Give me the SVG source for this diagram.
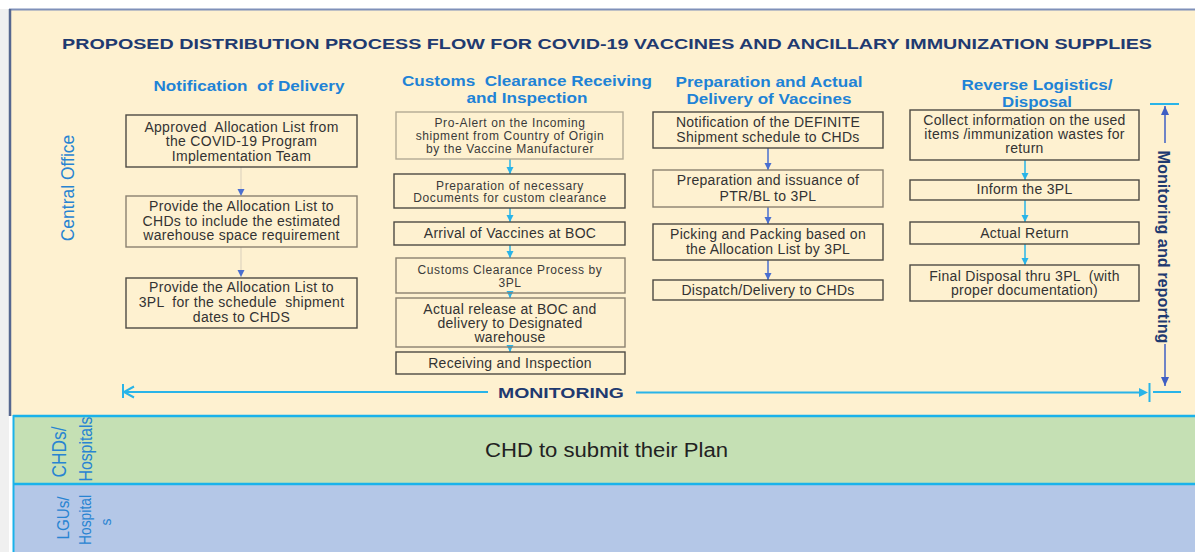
<svg xmlns="http://www.w3.org/2000/svg" width="1195" height="552" viewBox="0 0 1195 552">
<style>
.box{fill:none;stroke:#4d4a44;stroke-width:1.4}
.boxl{fill:none;stroke:#b3aa94;stroke-width:1.4}
.t{font-family:"Liberation Sans",Arial,sans-serif;font-size:14px;letter-spacing:0.3px;fill:#333;text-anchor:middle}
.ts{font-family:"Liberation Sans",Arial,sans-serif;font-size:12px;letter-spacing:0.6px;fill:#3a3a3a;text-anchor:middle}
.pre{white-space:pre}
.hd{font-family:"Liberation Sans",Arial,sans-serif;font-size:14.5px;font-weight:bold;fill:#1f83d6;text-anchor:middle}
.navy{font-family:"Liberation Sans",Arial,sans-serif;font-weight:bold;fill:#1f3a70}
.lane{font-family:"Liberation Sans",Arial,sans-serif;fill:#2884d2;text-anchor:middle;dominant-baseline:central}
.ac{stroke:#29b4e8;stroke-width:1.5;fill:none}
.ab{stroke:#4a6fd0;stroke-width:1.5;fill:none}
.ag{stroke:#d9cfbc;stroke-width:1;fill:none}
.mon{stroke:#29b4e8;stroke-width:2;fill:none}
</style>
<defs>
<marker id="mb" markerUnits="userSpaceOnUse" markerWidth="8" markerHeight="8" refX="7" refY="4" orient="auto"><path d="M0,0.5 L7,4 L0,7.5 z" fill="#4a6fd0"/></marker>
<marker id="mc" markerUnits="userSpaceOnUse" markerWidth="8" markerHeight="8" refX="7" refY="4" orient="auto"><path d="M0,0.5 L7,4 L0,7.5 z" fill="#29b4e8"/></marker>
<marker id="mv" markerUnits="userSpaceOnUse" markerWidth="10" markerHeight="10" refX="9" refY="5" orient="auto"><path d="M0,1 L9,5 L0,9 z" fill="#3f5fc4"/></marker>
</defs>

<rect x="0" y="0" width="1195" height="552" fill="#ffffff"/>
<rect x="0" y="9" width="9" height="543" fill="#f0f0f0"/>

<!-- lanes -->
<g id="lane-central">
<rect x="9" y="9" width="1186" height="407" fill="#fef1d0"/>
<line x1="9" y1="9.5" x2="1195" y2="9.5" stroke="#7f90b9" stroke-width="2"/>
<line x1="10" y1="9" x2="10" y2="416" stroke="#56678f" stroke-width="2.5"/>
<text class="lane" font-size="17.5" transform="translate(68,188) rotate(-90)">Central Office</text>
</g>
<g id="lane-chd">
<rect x="13" y="416" width="1182" height="68" fill="#c5e0b4"/>
<text class="lane" font-size="20" textLength="51" lengthAdjust="spacingAndGlyphs" transform="translate(59,452) rotate(-90)">CHDs/</text>
<text class="lane" font-size="19" textLength="65" lengthAdjust="spacingAndGlyphs" transform="translate(85,449) rotate(-90)">Hospitals</text>
<text x="606.5" y="457" font-family="Liberation Sans, Arial, sans-serif" font-size="20" fill="#222" text-anchor="middle" textLength="243" lengthAdjust="spacingAndGlyphs">CHD to submit their Plan</text>
</g>
<g id="lane-lgu">
<rect x="13" y="484" width="1182" height="68" fill="#b4c7e7"/>
<text class="lane" font-size="16" textLength="43" lengthAdjust="spacingAndGlyphs" transform="translate(63,518) rotate(-90)">LGUs/</text>
<text class="lane" font-size="16" textLength="50" lengthAdjust="spacingAndGlyphs" transform="translate(85,520) rotate(-90)">Hospital</text>
<text class="lane" font-size="14" transform="translate(106,522) rotate(-90)">s</text>
</g>
<line x1="13" y1="416" x2="1195" y2="416" stroke="#1ab2ea" stroke-width="2.5"/>
<line x1="13" y1="484" x2="1195" y2="484" stroke="#1ab2ea" stroke-width="2.5"/>
<line x1="13.5" y1="415" x2="13.5" y2="552" stroke="#1ab2ea" stroke-width="2"/>

<!-- title -->
<text id="title" class="navy" x="62" y="49" font-size="15.5" textLength="1090" lengthAdjust="spacingAndGlyphs">PROPOSED DISTRIBUTION PROCESS FLOW FOR COVID-19 VACCINES AND ANCILLARY IMMUNIZATION SUPPLIES</text>

<!-- headers -->
<g id="headers">
<text class="hd pre" x="249" y="91" font-size="13.5" textLength="191" lengthAdjust="spacingAndGlyphs">Notification  of Delivery</text>
<text class="hd pre" x="527" y="86" textLength="250" lengthAdjust="spacingAndGlyphs">Customs  Clearance Receiving</text>
<text class="hd" x="527" y="103" textLength="121" lengthAdjust="spacingAndGlyphs">and Inspection</text>
<text class="hd" x="769" y="87" textLength="187" lengthAdjust="spacingAndGlyphs">Preparation and Actual</text>
<text class="hd" x="769" y="104" textLength="165" lengthAdjust="spacingAndGlyphs">Delivery of Vaccines</text>
<text class="hd" x="1037" y="90" textLength="151" lengthAdjust="spacingAndGlyphs">Reverse Logistics/</text>
<text class="hd" x="1037" y="107" textLength="70" lengthAdjust="spacingAndGlyphs">Disposal</text>
</g>

<!-- connectors -->
<g id="connectors">
<line class="ag" x1="241" y1="167" x2="241" y2="196" marker-end="url(#mb)"/>
<line class="ag" x1="241" y1="247" x2="241" y2="277" marker-end="url(#mb)"/>
<line class="ac" x1="510" y1="159" x2="510" y2="174" marker-end="url(#mc)"/>
<line class="ac" x1="510" y1="208" x2="510" y2="222" marker-end="url(#mc)"/>
<line class="ac" x1="510" y1="245" x2="510" y2="258" marker-end="url(#mc)"/>
<line class="ac" x1="510" y1="293" x2="510" y2="298" marker-end="url(#mc)"/>
<line class="ac" x1="510" y1="347" x2="510" y2="352" marker-end="url(#mc)"/>
<line class="ab" x1="768" y1="148" x2="768" y2="170" marker-end="url(#mb)"/>
<line class="ab" x1="768" y1="207" x2="768" y2="224" marker-end="url(#mb)"/>
<line class="ab" x1="768" y1="260" x2="768" y2="280" marker-end="url(#mb)"/>
<line class="ac" x1="1025" y1="160" x2="1025" y2="180" marker-end="url(#mc)"/>
<line class="ac" x1="1025" y1="200" x2="1025" y2="222" marker-end="url(#mc)"/>
<line class="ac" x1="1025" y1="244" x2="1025" y2="265" marker-end="url(#mc)"/>
<!-- monitoring horizontal -->
<line class="mon" x1="123" y1="384" x2="123" y2="398"/>
<polyline class="mon" points="134,386.5 124,392 134,397.5"/>
<line class="mon" x1="124" y1="392" x2="488" y2="392"/>
<line class="mon" x1="636" y1="392.5" x2="1140" y2="392.5"/>
<path d="M1139,388 L1148,392.5 L1139,397 z" fill="#29b4e8"/>
<line class="mon" x1="1149.5" y1="383" x2="1149.5" y2="402"/>
<line class="mon" x1="1153" y1="392" x2="1181" y2="392"/>
<!-- monitoring vertical -->
<line class="mon" x1="1150" y1="104" x2="1179" y2="104"/>
<line x1="1165" y1="143" x2="1165" y2="106" stroke="#3f5fc4" stroke-width="1.5" marker-end="url(#mv)"/>
<line x1="1165" y1="344" x2="1165" y2="386" stroke="#3f5fc4" stroke-width="1.5" marker-end="url(#mv)"/>
<text class="navy" x="561" y="398" font-size="15.5" text-anchor="middle" textLength="126" lengthAdjust="spacingAndGlyphs">MONITORING</text>
<text class="navy" font-size="16" text-anchor="middle" dominant-baseline="central" textLength="193" lengthAdjust="spacingAndGlyphs" transform="translate(1163,247) rotate(90)">Monitoring and reporting</text>
</g>

<!-- column 1 -->
<g id="n1-approved">
<rect class="box" x="126" y="115" width="231" height="52"/>
<text class="t pre" x="241.5" y="131.5">Approved  Allocation List from</text>
<text class="t" x="241.5" y="146">the COVID-19 Program</text>
<text class="t" x="241.5" y="160.5">Implementation Team</text>
</g>
<g id="n1-chds">
<rect class="boxl" x="126" y="196" width="231" height="51" style="stroke:#8a8170"/>
<text class="t" x="241.5" y="210.5">Provide the Allocation List to</text>
<text class="t" x="241.5" y="225.5">CHDs to include the estimated</text>
<text class="t" x="241.5" y="239.5">warehouse space requirement</text>
</g>
<g id="n1-3pl">
<rect class="box" x="126" y="278" width="231" height="50"/>
<text class="t" x="241.5" y="291.5">Provide the Allocation List to</text>
<text class="t pre" x="241.5" y="307">3PL  for the schedule  shipment</text>
<text class="t" x="241.5" y="321.5">dates to CHDS</text>
</g>

<!-- column 2 -->
<g id="n2-prealert">
<rect class="boxl" x="396" y="112" width="227" height="47"/>
<text class="ts" x="510" y="127">Pro-Alert on the Incoming</text>
<text class="ts" x="510" y="140">shipment from Country of Origin</text>
<text class="ts" x="510" y="153">by the Vaccine Manufacturer</text>
</g>
<g id="n2-docs">
<rect class="box" x="394" y="174" width="231" height="34"/>
<text class="ts" x="510" y="190">Preparation of necessary</text>
<text class="ts" x="510" y="202">Documents for custom clearance</text>
</g>
<g id="n2-arrival">
<rect class="box" x="394" y="222" width="231" height="23"/>
<text class="t" x="510" y="238">Arrival of Vaccines at BOC</text>
</g>
<g id="n2-customs">
<rect class="boxl" x="396" y="258" width="229" height="35" style="stroke:#8a8170"/>
<text class="ts" x="510" y="274">Customs Clearance Process by</text>
<text class="ts" x="510" y="287">3PL</text>
</g>
<g id="n2-release">
<rect class="boxl" x="396" y="298" width="229" height="49" style="stroke:#8a8170"/>
<text class="t" x="510" y="313.5">Actual release at BOC and</text>
<text class="t" x="510" y="328">delivery to Designated</text>
<text class="t" x="510" y="342">warehouse</text>
</g>
<g id="n2-receiving">
<rect class="box" x="396" y="352" width="229" height="22"/>
<text class="t" x="510" y="367.5">Receiving and Inspection</text>
</g>

<!-- column 3 -->
<g id="n3-notify">
<rect class="box" x="653" y="112" width="230" height="36"/>
<text class="t" x="768" y="126.5">Notification of the DEFINITE</text>
<text class="t" x="768" y="141.5">Shipment schedule to CHDs</text>
</g>
<g id="n3-ptr">
<rect class="box" x="653" y="170" width="230" height="37" style="stroke:#8a8170"/>
<text class="t" x="768" y="184.5">Preparation and issuance of</text>
<text class="t" x="768" y="200.5">PTR/BL to 3PL</text>
</g>
<g id="n3-picking">
<rect class="box" x="653" y="224" width="230" height="36"/>
<text class="t" x="768" y="238.5">Picking and Packing based on</text>
<text class="t" x="768" y="253.5">the Allocation List by 3PL</text>
</g>
<g id="n3-dispatch">
<rect class="box" x="653" y="280" width="230" height="20"/>
<text class="t" x="768" y="294.5">Dispatch/Delivery to CHDs</text>
</g>

<!-- column 4 -->
<g id="n4-collect">
<rect class="box" x="910" y="110" width="229" height="50"/>
<text class="t" x="1024.5" y="124.5">Collect information on the used</text>
<text class="t" x="1024.5" y="138.5">items /immunization wastes for</text>
<text class="t" x="1024.5" y="152.5">return</text>
</g>
<g id="n4-inform">
<rect class="box" x="910" y="180" width="229" height="20"/>
<text class="t" x="1024.5" y="194">Inform the 3PL</text>
</g>
<g id="n4-return">
<rect class="box" x="910" y="222" width="229" height="22"/>
<text class="t" x="1024.5" y="237.5">Actual Return</text>
</g>
<g id="n4-disposal">
<rect class="box" x="910" y="265" width="229" height="36"/>
<text class="t pre" x="1024.5" y="280.5">Final Disposal thru 3PL  (with</text>
<text class="t" x="1024.5" y="294.5">proper documentation)</text>
</g>
</svg>
